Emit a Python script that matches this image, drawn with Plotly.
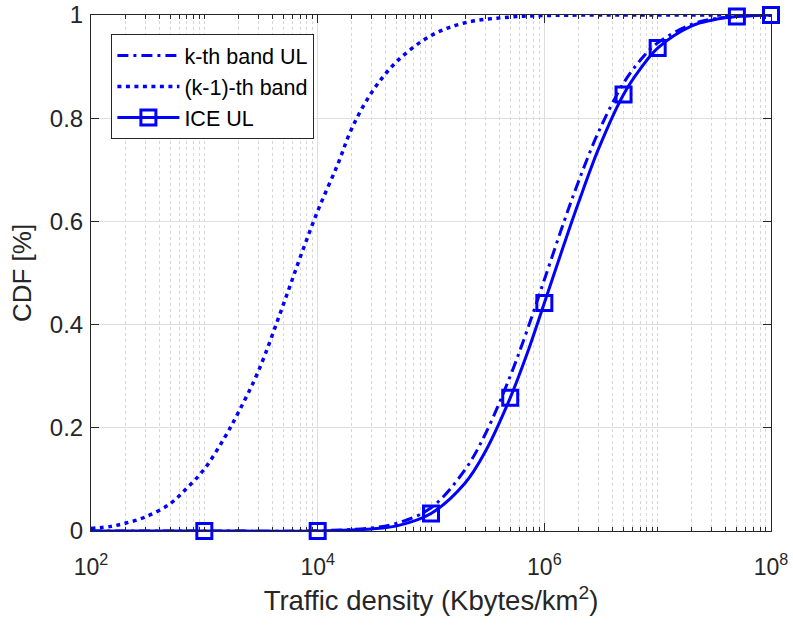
import plotly.graph_objects as go

# ---- data ----
# (k-1)-th band
x_prev = [1e2, 1.5e2, 2e2, 3e2, 5e2, 7e2, 1e3, 1.5e3, 2e3, 3e3, 5e3, 7e3, 1e4,
          1.5e4, 2e4, 3e4, 5e4, 1e5, 2e5, 5e5, 1e6, 1e7, 1e8]
y_prev = [0.005, 0.009, 0.015, 0.027, 0.053, 0.083, 0.12, 0.18, 0.23, 0.31, 0.44, 0.53, 0.62,
          0.71, 0.78, 0.85, 0.91, 0.96, 0.985, 0.996, 0.999, 1.0, 1.0]

# k-th band UL
x_kth = [1e2, 1e3, 1e4, 3e4, 5e4, 1e5, 2e5, 3e5, 5e5, 7e5, 1e6, 1.5e6, 2e6, 3e6,
         5e6, 7e6, 1e7, 2e7, 3e7, 5e7, 1e8]
y_kth = [0.0, 0.0, 0.0005, 0.006, 0.015, 0.045, 0.119, 0.187, 0.30, 0.387, 0.487, 0.601, 0.677, 0.773,
         0.868, 0.912, 0.946, 0.982, 0.992, 0.997, 1.0]

# ICE UL (line)
x_ice = [1e2, 1e3, 1e4, 3e4, 5e4, 1e5, 2e5, 3e5, 5e5, 7e5, 1e6, 1.5e6, 2e6, 3e6,
         5e6, 7e6, 1e7, 2e7, 3e7, 5e7, 1e8]
y_ice = [0.0, 0.0, 0.0002, 0.004, 0.010, 0.034, 0.093, 0.153, 0.258, 0.342, 0.442, 0.557, 0.636, 0.74,
         0.846, 0.895, 0.936, 0.979, 0.99, 0.997, 1.0]

# ICE UL (markers)
x_ice_mk = [1e3, 1e4, 1e5, 5e5, 1e6, 5e6, 1e7, 5e7, 1e8]
y_ice_mk = [0.0, 0.0002, 0.034, 0.258, 0.442, 0.846, 0.936, 0.997, 1.0]

x_tickvals = [1e2, 1e4, 1e6, 1e8]
x_ticktext = ["10<sup>2</sup>", "10<sup>4</sup>", "10<sup>6</sup>", "10<sup>8</sup>"]
y_tickvals = [0, 0.2, 0.4, 0.6, 0.8, 1]
y_ticktext = ["0", "0.2", "0.4", "0.6", "0.8", "1"]

BLUE = "#0000FF"
AX = "#262626"
FONT = "Liberation Sans, Arial, sans-serif"

minor_x = []
for e in range(2, 8):
    for m in range(1, 10):
        v = m * 10 ** e
        if v not in x_tickvals:
            minor_x.append(v)

fig = go.Figure()

fig.add_trace(go.Scatter(
    x=x_kth, y=y_kth, mode="lines", name="k-th band UL", cliponaxis=False,
    line=dict(color=BLUE, width=3, dash="11px,5px,3px,5px", shape="spline"),
))
fig.add_trace(go.Scatter(
    x=x_prev, y=y_prev, mode="lines", name="(k-1)-th band", cliponaxis=False,
    line=dict(color=BLUE, width=3.5, dash="4px,4.5px", shape="spline"),
))
fig.add_trace(go.Scatter(
    x=x_ice, y=y_ice, mode="lines", name="ICE UL", showlegend=False, legendgroup="ice",
    cliponaxis=False,
    line=dict(color=BLUE, width=3, shape="spline"),
))
fig.add_trace(go.Scatter(
    x=x_ice_mk, y=y_ice_mk, mode="markers", name="ICE UL", showlegend=False, legendgroup="ice",
    cliponaxis=False,
    marker=dict(symbol="square-open", size=15, color=BLUE, line=dict(width=3, color=BLUE)),
))
fig.add_trace(go.Scatter(
    x=[None], y=[None], mode="lines+markers", name="ICE UL", legendgroup="ice",
    line=dict(color=BLUE, width=3),
    marker=dict(symbol="square-open", size=15, color=BLUE, line=dict(width=3, color=BLUE)),
))

fig.update_layout(
    width=793, height=628,
    margin=dict(l=91, r=22, t=15, b=97),
    plot_bgcolor="white", paper_bgcolor="white",
    font=dict(family=FONT, size=20, color=AX),
    showlegend=True,
    legend=dict(
        x=0.03, y=0.963, xanchor="left", yanchor="top",
        bgcolor="white", bordercolor=AX, borderwidth=1,
        font=dict(family=FONT, size=21.5, color="#000000"),
        itemwidth=62, tracegroupgap=0,
    ),
)

fig.update_xaxes(
    type="log", range=[2, 8], automargin=False,
    tickvals=x_tickvals, ticktext=x_ticktext,
    ticks="inside", ticklen=8, tickcolor=AX, tickwidth=1,
    ticklabelstandoff=15,
    showline=True, linecolor=AX, linewidth=1, mirror="ticks",
    showgrid=True, gridcolor="#dedede", gridwidth=1,
    minor=dict(tickmode="array", tickvals=minor_x, ticks="inside", ticklen=4,
               tickcolor=AX, showgrid=True, gridcolor="#d6d6d6", griddash="dot", gridwidth=1),
    tickfont=dict(family=FONT, size=23, color=AX),
    title=dict(text="Traffic density (Kbytes/km<sup>2</sup>)", font=dict(family=FONT, size=27.5, color=AX), standoff=12),
    zeroline=False,
)
fig.update_yaxes(
    range=[0, 1], automargin=False,
    tickvals=y_tickvals, ticktext=y_ticktext,
    ticks="inside", ticklen=8, tickcolor=AX, tickwidth=1,
    ticklabelstandoff=2,
    showline=True, linecolor=AX, linewidth=1, mirror="ticks",
    showgrid=True, gridcolor="#dedede", gridwidth=1,
    tickfont=dict(family=FONT, size=24, color=AX),
    title=dict(text="CDF [%]", font=dict(family=FONT, size=26, color=AX), standoff=10),
    zeroline=False,
)

fig.write_html("out.html")
